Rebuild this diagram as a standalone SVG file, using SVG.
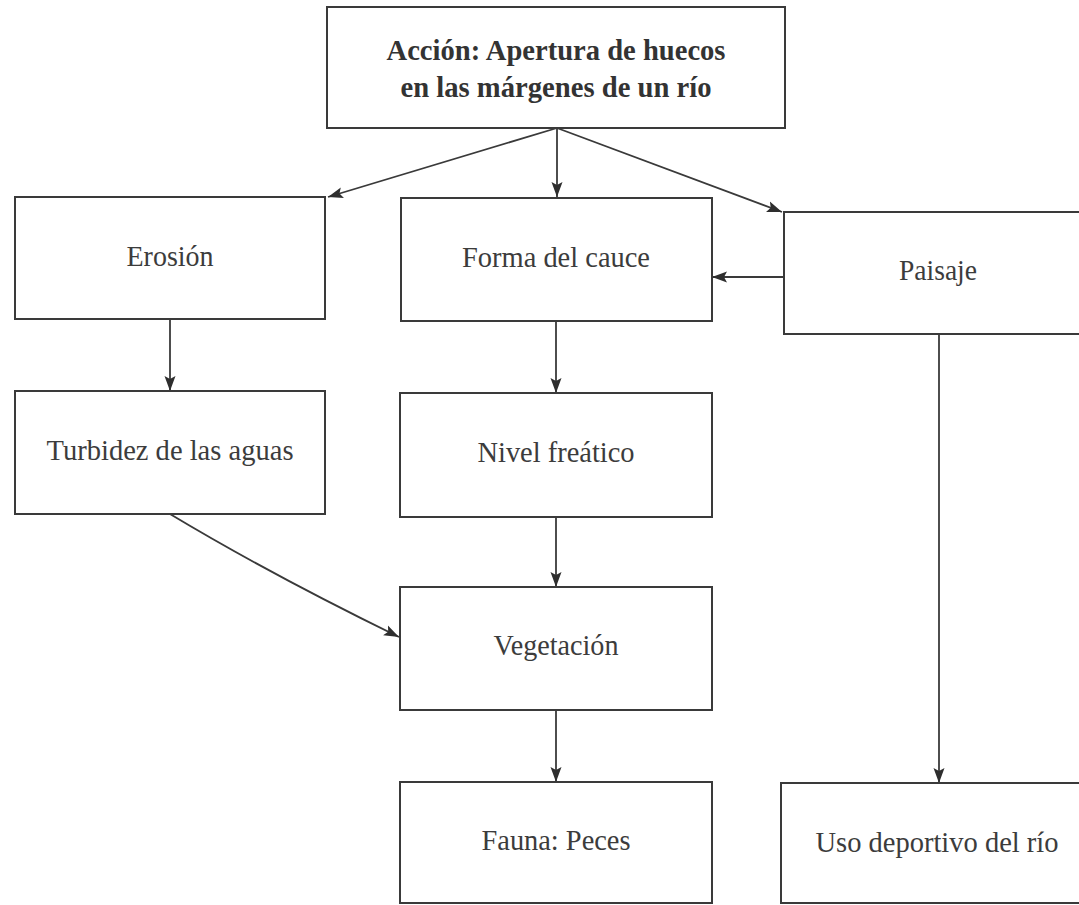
<svg xmlns="http://www.w3.org/2000/svg" width="1079" height="905" viewBox="0 0 1079 905">
<defs>
<marker id="ah" markerUnits="userSpaceOnUse" markerWidth="16" markerHeight="12" refX="15" refY="6" orient="auto">
<path d="M0,0.5 L15,6 L0,11.5 L3,6 Z" fill="#2e2e2e"/>
</marker>
<style>
.box{fill:#fff;stroke:#3a3a3a;stroke-width:2}
.lbl{font-family:"Liberation Serif","Times New Roman",serif;font-size:30px;fill:#3c3c3c;text-anchor:middle}
.ttl{font-family:"Liberation Serif","Times New Roman",serif;font-size:29px;font-weight:bold;fill:#333;text-anchor:middle}
.con{fill:none;stroke:#3a3a3a;stroke-width:1.8;marker-end:url(#ah)}
</style>
</defs>
<rect width="1079" height="905" fill="#fff"/>
<g id="connectors">
<line class="con" x1="557" y1="128" x2="557" y2="197"/>
<line class="con" x1="557" y1="128" x2="328" y2="197"/>
<line class="con" x1="557" y1="128" x2="782" y2="212"/>
<line class="con" x1="784" y1="277" x2="712" y2="277"/>
<line class="con" x1="170" y1="319" x2="170" y2="391"/>
<line class="con" x1="556" y1="321" x2="556" y2="393"/>
<line class="con" x1="556" y1="517" x2="556" y2="587"/>
<line class="con" x1="556" y1="710" x2="556" y2="782"/>
<line class="con" x1="939" y1="334" x2="939" y2="783"/>
<path class="con" d="M170,514 Q270,574 399,637"/>
</g>
<g id="accion">
<rect class="box" x="327" y="7" width="458" height="121"/>
<text class="ttl" x="556" y="60" textLength="339" lengthAdjust="spacingAndGlyphs">Acción: Apertura de huecos</text>
<text class="ttl" x="556" y="97" textLength="311" lengthAdjust="spacingAndGlyphs">en las márgenes de un río</text>
</g>
<g id="erosion">
<rect class="box" x="15" y="197" width="310" height="122"/>
<text class="lbl" x="170" y="266" textLength="87" lengthAdjust="spacingAndGlyphs">Erosión</text>
</g>
<g id="forma">
<rect class="box" x="401" y="198" width="311" height="123"/>
<text class="lbl" x="556" y="267" textLength="188" lengthAdjust="spacingAndGlyphs">Forma del cauce</text>
</g>
<g id="paisaje">
<rect class="box" x="784" y="212" width="310" height="122"/>
<text class="lbl" x="938" y="280" textLength="78" lengthAdjust="spacingAndGlyphs">Paisaje</text>
</g>
<g id="turbidez">
<rect class="box" x="15" y="391" width="310" height="123"/>
<text class="lbl" x="170" y="460" textLength="247" lengthAdjust="spacingAndGlyphs">Turbidez de las aguas</text>
</g>
<g id="nivel">
<rect class="box" x="400" y="393" width="312" height="124"/>
<text class="lbl" x="556" y="462" textLength="157" lengthAdjust="spacingAndGlyphs">Nivel freático</text>
</g>
<g id="vegetacion">
<rect class="box" x="400" y="587" width="312" height="123"/>
<text class="lbl" x="556" y="655" textLength="125" lengthAdjust="spacingAndGlyphs">Vegetación</text>
</g>
<g id="fauna">
<rect class="box" x="400" y="782" width="312" height="121"/>
<text class="lbl" x="556" y="850" textLength="149" lengthAdjust="spacingAndGlyphs">Fauna: Peces</text>
</g>
<g id="uso">
<rect class="box" x="781" y="783" width="310" height="120"/>
<text class="lbl" x="937" y="852" textLength="243" lengthAdjust="spacingAndGlyphs">Uso deportivo del río</text>
</g>
</svg>
